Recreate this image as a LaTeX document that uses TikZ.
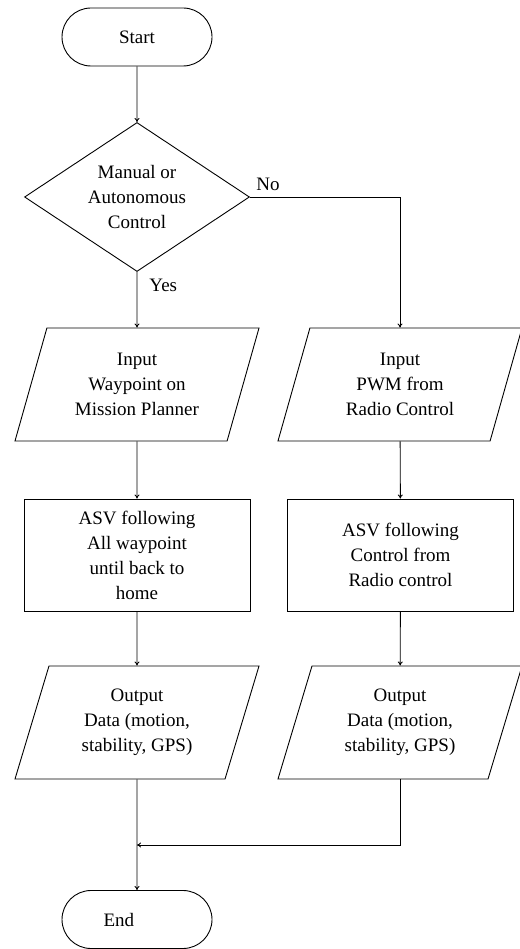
\documentclass[tikz,border=0pt]{standalone}
\usepackage{fontspec}
\setmainfont{Liberation Serif}
\usetikzlibrary{shapes.geometric,shapes.misc,arrows.meta}
\begin{document}
\begin{tikzpicture}[x=1pt,y=-1pt,line width=0.9pt,
    every node/.style={font=\fontsize{19pt}{25pt}\selectfont,align=center,inner sep=0pt},
    terminal/.style={draw,rounded rectangle,minimum width=150pt,minimum height=58pt},
    decision/.style={draw,diamond,aspect=1.51,minimum width=225pt,minimum height=149pt},
    io/.style={draw,trapezium,trapezium left angle=63,trapezium right angle=117,
      trapezium stretches body,minimum width=244pt,minimum height=113pt},
    process/.style={draw,rectangle,minimum width=226pt,minimum height=112pt},
    flow/.style={-{To[length=4pt,width=5pt]}}]
  \useasboundingbox (0,0) rectangle (519,949);
  % shapes
  \node [terminal] (start) at (137,37) {Start};
  \node [decision] (dec) at (137,197) {Manual or\\Autonomous\\Control};
  \node [io] (in1) at (137,384.5) {Input\\Waypoint on\\Mission Planner};
  \node [io] (in2) at (400,384.5) {Input\\PWM from\\Radio Control};
  \node [process] (pr1) at (137,555) {ASV following\\All waypoint\\until back to\\home};
  \node [process] (pr2) at (400.5,555) {ASV following\\Control from\\Radio control};
  \node [io] (out1) at (137,722.5) {Output\\Data (motion,\\stability, GPS)};
  \node [io] (out2) at (400,722.5) {Output\\Data (motion,\\stability, GPS)};
  \node [terminal] (end) at (137,919.5) {\makebox[67pt][l]{End}};
  \coordinate (join) at (137,845);
  % flow lines
  \draw [flow] (start) -- (dec);
  \draw [flow] (dec.south) -- node [pos=0.25,right=12pt] {Yes} (in1);
  \draw [flow] (dec.east) -| node [pos=0.06,above=6pt] {No} (in2);
  \draw [flow] (in1) -- (pr1);
  \draw [flow] (in2) -- (pr2);
  \draw [flow] (pr1) -- (out1);
  \draw [flow] (pr2) -- (out2);
  \draw [flow] (out1) -- (end);
  \draw [flow] (out2.south) |- (join);
\end{tikzpicture}
\end{document}
